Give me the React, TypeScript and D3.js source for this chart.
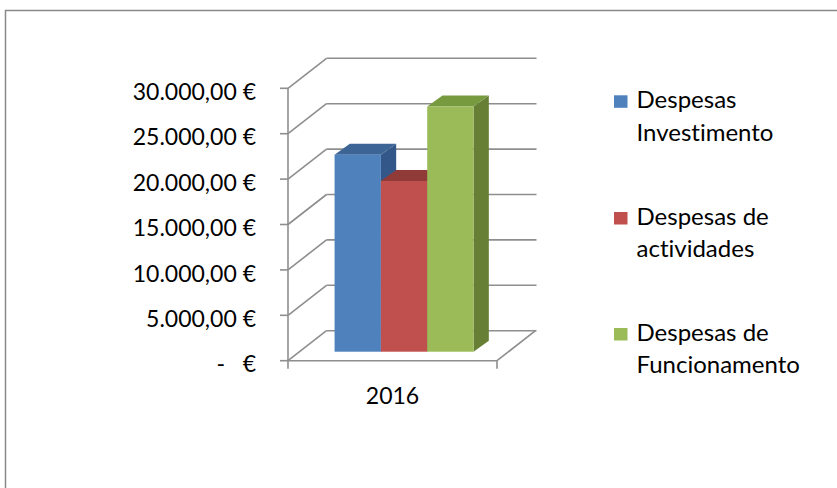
import React from "react";
import * as d3 from "d3";

const categories = ["2016"];
const seriesNames = ["Despesas Investimento", "Despesas de actividades", "Despesas de Funcionamento"];
const seriesValues = [21700, 18800, 27000];
const legendLines = [["Despesas", "Investimento"], ["Despesas de", "actividades"], ["Despesas de", "Funcionamento"]];
const tickValues = [0, 5000, 10000, 15000, 20000, 25000, 30000];

const colors = [
  { front: "#4F81BD", top: "#3C6595", side: "#34578A" },
  { front: "#C0504D", top: "#913B39", side: "#8A3735" },
  { front: "#9BBB59", top: "#789A3F", side: "#677F35" },
];

const W = 837, H = 488;
const FONT = "Lato, 'Open Sans', sans-serif";
const GRID = "#8E8E8E";

const locale = d3.formatLocale({ decimal: ",", thousands: ".", grouping: [3], currency: ["", " €"] });
const fmt = locale.format(",.2f");
const tickLabel = (v: number) => (v === 0 ? "-   €" : fmt(v) + " €");

export default function App() {
  const y = d3.scaleLinear().domain([0, 30000]).range([360.7, 88.3]);
  const x0 = 288, x1 = 497;
  const wallDx = 38.5, wallDy = -30;
  const cat = d3.scaleBand().domain(categories).range([x0, x1]).padding(0);
  const inner = d3.scaleBand().domain(seriesNames).range([0, cat.bandwidth()]).paddingInner(0).paddingOuter(0.756);
  const barDepthFront = 0.3 * wallDx, barDepthFrontY = 0.3 * wallDy;
  const bdx = 15.3, bdy = -11;

  const line = (a: number[], b: number[], key: string) => (
    <line key={key} x1={a[0]} y1={a[1]} x2={b[0]} y2={b[1]} stroke={GRID} strokeWidth={1.6} />
  );

  const grid: JSX.Element[] = [];
  tickValues.forEach((t, i) => {
    const yy = y(t);
    grid.push(line([x0, yy], [x0 + wallDx, yy + wallDy], "d" + i));
    grid.push(line([x0 + wallDx, yy + wallDy], [x1 + wallDx + 1, yy + wallDy], "b" + i));
    grid.push(line([x0 - 8, yy], [x0, yy], "t" + i));
  });
  grid.push(line([x0, y(30000)], [x0, y(0) + 0.5], "va"));
  grid.push(line([x0, y(0)], [x1, y(0)], "ff"));
  grid.push(line([x1, y(0)], [x1 + wallDx, y(0) + wallDy], "fr"));
  grid.push(line([x0, y(0)], [x0, y(0) + 8], "tx0"));
  grid.push(line([x1, y(0)], [x1, y(0) + 8], "tx1"));

  const bars: JSX.Element[] = [];
  categories.forEach((c) => {
    seriesNames.forEach((s, i) => {
      const v = seriesValues[i];
      const bx = (cat(c) as number) + (inner(s) as number) + barDepthFront;
      const bw = inner.bandwidth();
      const base = y(0) + barDepthFrontY;
      const top = base + (y(v) - y(0));
      const col = colors[i];
      const pts = (p: number[][]) => p.map((q) => q.join(",")).join(" ");
      bars.push(
        <g key={s}>
          <polygon points={pts([[bx + bw, top], [bx + bw + bdx, top + bdy], [bx + bw + bdx, base + bdy], [bx + bw, base]])} fill={col.side} />
          <polygon points={pts([[bx, top], [bx + bdx, top + bdy], [bx + bw + bdx, top + bdy], [bx + bw, top]])} fill={col.top} />
          <rect x={bx} y={top} width={bw} height={base - top} fill={col.front} />
        </g>
      );
    });
  });

  const legendBase = [108.3, 225, 341];
  const noLig = { fontVariantLigatures: "none" as const, fontFeatureSettings: "'liga' 0, 'clig' 0", whiteSpace: "pre" as const };

  return (
    <svg width={W} height={H} style={{ position: "absolute", left: 0, top: 0, background: "#fff" }}>
      <rect x={0} y={0} width={W} height={H} fill="#fff" />
      <rect x={5.5} y={10.5} width={W + 20} height={H + 20} fill="none" stroke="#8A8A8A" strokeWidth={1.5} />
      {grid}
      {bars}
      {tickValues.map((t) => (
        <text key={t} x={256} y={y(t) + 11.7} textAnchor="end" fontFamily={FONT} fontSize={23} fill="#000" style={noLig}>
          {tickLabel(t)}
        </text>
      ))}
      {categories.map((c) => (
        <text key={c} x={(cat(c) as number) + cat.bandwidth() / 2} y={404} textAnchor="middle" fontFamily={FONT} fontSize={23} fill="#000">
          {c}
        </text>
      ))}
      {seriesNames.map((s, i) => (
        <g key={s}>
          <rect x={614} y={legendBase[i] - 13} width={13.5} height={12.5} fill={colors[i].front} />
          {legendLines[i].map((ln, j) => (
            <text key={j} x={636.5} y={legendBase[i] + j * 32.3} fontFamily={FONT} fontSize={24} fill="#000" style={noLig}>
              {ln}
            </text>
          ))}
        </g>
      ))}
    </svg>
  );
}
